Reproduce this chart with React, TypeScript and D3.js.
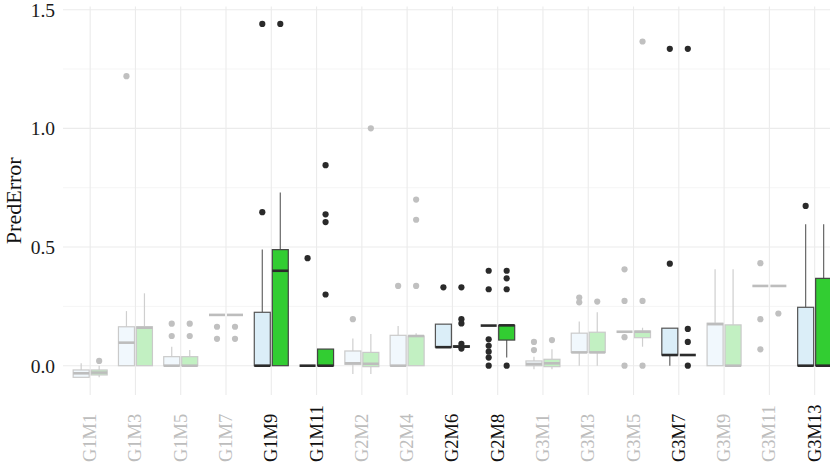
import React from "react";
import * as d3 from "d3";

const categories = ["G1M1","G1M3","G1M5","G1M7","G1M9","G1M11","G2M2","G2M4","G2M6","G2M8","G3M1","G3M3","G3M5","G3M7","G3M9","G3M11","G3M13"];
const highlighted = ["G1M9","G1M11","G2M6","G2M8","G3M7","G3M13"];

// [lowerWhisker, q1, median, q3, upperWhisker]
const seriesAStats: number[][] = [
  [-0.049,-0.049,-0.032,-0.018,0.01],
  [0,0,0.097,0.164,0.23],
  [0,0,0,0.038,0.08],
  [0.214,0.214,0.214,0.214,0.214],
  [0,0,0,0.225,0.49],
  [0,0,0,0,0],
  [-0.035,0.006,0.01,0.062,0.115],
  [0,0,0,0.128,0.167],
  [0.078,0.078,0.078,0.175,0.175],
  [0.169,0.169,0.169,0.169,0.169],
  [-0.015,0,0.007,0.02,0.038],
  [0,0.056,0.056,0.137,0.186],
  [0.143,0.143,0.143,0.143,0.143],
  [0,0.045,0.045,0.158,0.158],
  [0,0,0.175,0.179,0.406],
  [0.336,0.336,0.336,0.336,0.336],
  [0,0,0,0.246,0.596],
];
const seriesAOutliers: number[][] = [
  [],[1.22],[0.177,0.125],[0.164,0.113],[0.647,1.44],[0.453],[0.196],[0.336],[0.33],
  [0.40,0.322,0.111,0.084,0.059,0.034,0],[0.10,0.066],[0.287,0.267],[0.406,0.273,0.12,0],
  [0.43,1.335],[],[0.432,0.196,0.069],[0.673],
];
const seriesBStats: number[][] = [
  [-0.049,-0.039,-0.029,-0.018,0.0],
  [0,0,0.16,0.164,0.305],
  [0,0,0,0.038,0.066],
  [0.214,0.214,0.214,0.214,0.214],
  [0,0,0.40,0.489,0.73],
  [0,0,0,0.07,0.07],
  [-0.035,-0.004,0.008,0.056,0.134],
  [0,0,0.125,0.125,0.137],
  [0.078,0.078,0.08,0.084,0.084],
  [0.034,0.108,0.17,0.17,0.17],
  [-0.015,-0.004,0.01,0.027,0.069],
  [0,0.056,0.056,0.141,0.225],
  [0.08,0.118,0.143,0.146,0.16],
  [0.045,0.045,0.045,0.045,0.045],
  [0,0,0,0.172,0.406],
  [0.336,0.336,0.336,0.336,0.336],
  [0,0,0,0.368,0.596],
];
const seriesBOutliers: number[][] = [
  [0.02],[],[0.177,0.125],[0.164,0.113],[1.44],[0.845,0.638,0.605,0.30],[1.0],[0.336,0.70,0.615],
  [0.33,0.196,0.178,0.092,0.072],[0.40,0.368,0.322,0],[0.108],[0.27],[1.366,0.273,0],
  [1.335,0.155,0.10,0],[],[0.22],[],
];
const yTicks = [0, 0.5, 1.0, 1.5];
const yMinor = [0.25, 0.75, 1.25];

const W = 830, H = 472;
const panelLeft = 63, panelTop = 6.5, panelBottom = 395;
const step = 45.28;
const x = d3.scaleBand<string>().domain(categories)
  .range([panelLeft + 0.1 * step, panelLeft + 0.1 * step + step * categories.length]).paddingInner(0);
const y = d3.scaleLinear().domain([-0.1235, 1.5135]).range([panelBottom, panelTop]);
const cx = (c: string) => (x(c) as number) + x.bandwidth() / 2;

const seriesDefs = [
  { stats: seriesAStats, outs: seriesAOutliers, dx: -9, fill: "#dbeef8", fadeFill: "#f1f8fd", stroke: "#555", },
  { stats: seriesBStats, outs: seriesBOutliers, dx: 9, fill: "#32cd32", fadeFill: "#c2f0c2", stroke: "#444", },
];

export default function App() {
  const bw = 16;
  return (
    <svg width={W} height={H} style={{ position: "absolute", left: 0, top: 0, background: "#fff" }}>
      <rect x={0} y={0} width={W} height={H} fill="#fff" />
      {yMinor.map((t) => (
        <line key={"mn" + t} x1={panelLeft} x2={W} y1={y(t)} y2={y(t)} stroke="#f5f5f5" strokeWidth={1} />
      ))}
      {yTicks.map((t) => (
        <line key={"mj" + t} x1={panelLeft} x2={W} y1={y(t)} y2={y(t)} stroke="#ebebeb" strokeWidth={1.1} />
      ))}
      {categories.map((c) => (
        <line key={"vg" + c} x1={cx(c)} x2={cx(c)} y1={panelTop} y2={panelBottom} stroke="#ebebeb" strokeWidth={1.1} />
      ))}
      {categories.map((c, i) => {
        const hl = highlighted.includes(c);
        return seriesDefs.map((s, si) => {
          const [lo, q1, med, q3, hi] = s.stats[i];
          const bx = cx(c) + s.dx;
          const stroke = hl ? s.stroke : "#cacaca";
          const wcol = hl ? "#666" : "#cfcfcf";
          const mcol = hl ? "#2b2b2b" : "#bdbdbd";
          const pcol = hl ? "#2a2a2a" : "#c0c0c0";
          return (
            <g key={c + si}>
              {hi > q3 && <line x1={bx} x2={bx} y1={y(q3)} y2={y(hi)} stroke={wcol} strokeWidth={1.2} />}
              {lo < q1 && <line x1={bx} x2={bx} y1={y(q1)} y2={y(lo)} stroke={wcol} strokeWidth={1.2} />}
              {q3 > q1 && (
                <rect x={bx - bw / 2} y={y(q3)} width={bw} height={y(q1) - y(q3)}
                  fill={hl ? s.fill : s.fadeFill} stroke={stroke} strokeWidth={1.2} />
              )}
              <line x1={bx - bw / 2} x2={bx + bw / 2} y1={y(med)} y2={y(med)} stroke={mcol} strokeWidth={2.6} />
              {s.outs[i].map((o, k) => (
                <circle key={k} cx={bx} cy={y(o)} r={3.1} fill={pcol} />
              ))}
            </g>
          );
        });
      })}
      {yTicks.map((t) => (
        <text key={"yl" + t} x={55} y={y(t)} dy="0.35em" textAnchor="end"
          fontFamily="Liberation Serif, serif" fontSize={19.5} fill="#1a1a1a">{t.toFixed(1)}</text>
      ))}
      <text transform={`translate(21,${(panelTop + panelBottom) / 2}) rotate(-90)`} textAnchor="middle"
        fontFamily="Liberation Serif, serif" fontSize={22} fill="#111">PredError</text>
      {categories.map((c) => (
        <text key={"xl" + c} transform={`translate(${cx(c) + 6},462) rotate(-90)`} textAnchor="start"
          fontFamily="Liberation Serif, serif" fontSize={18.5}
          fill={highlighted.includes(c) ? "#111" : "#bdbdbd"}>{c}</text>
      ))}
    </svg>
  );
}
